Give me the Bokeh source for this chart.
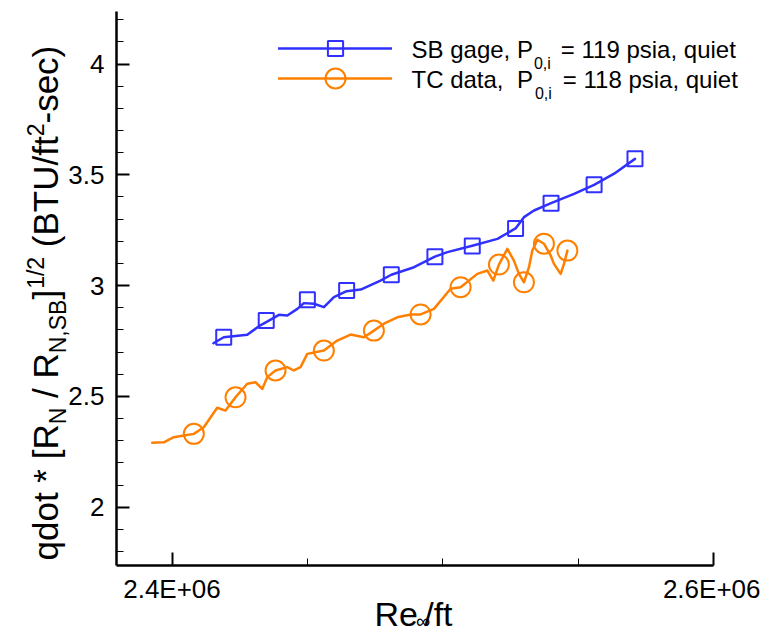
from math import pi
from bokeh.plotting import figure
from bokeh.models import Range1d, FixedTicker, Label, Legend, LegendItem
from bokeh.embed import file_html
from bokeh.resources import INLINE

# ---------------- data ----------------
# SB gage, P0,i = 119 psia (blue line + square markers)
sb_re = [2.4153e6, 2.4191e6, 2.4278e6, 2.4321e6, 2.4348e6, 2.4395e6, 2.4426e6,
         2.4463e6, 2.4487e6, 2.4524e6, 2.4561e6, 2.4598e6, 2.4645e6, 2.4697e6,
         2.4770e6, 2.4810e6, 2.4894e6, 2.4971e6, 2.5017e6, 2.5109e6, 2.5202e6,
         2.5269e6, 2.5300e6, 2.5337e6, 2.5400e6, 2.5485e6, 2.5559e6, 2.5633e6,
         2.5710e6]
sb_q = [2.740, 2.767, 2.778, 2.817, 2.835, 2.868, 2.865,
        2.895, 2.921, 2.918, 2.903, 2.948, 2.975, 2.982,
        3.023, 3.049, 3.083, 3.131, 3.151, 3.180, 3.211,
        3.258, 3.309, 3.339, 3.372, 3.414, 3.455, 3.505,
        3.572]
sb_mk_re = [2.4191e6, 2.4348e6, 2.4500e6, 2.4645e6, 2.4810e6, 2.4971e6,
            2.5109e6, 2.5269e6, 2.5400e6, 2.5559e6, 2.5710e6]
sb_mk_q = [2.767, 2.843, 2.936, 2.978, 3.049, 3.130,
           3.179, 3.258, 3.372, 3.455, 3.572]

# TC data, P0,i = 118 psia (orange line + circle markers)
tc_re = [2.39268e6, 2.39697e6, 2.40067e6, 2.40436e6, 2.40806e6, 2.41175e6,
         2.41670e6, 2.41977e6, 2.42346e6, 2.42779e6, 2.43085e6, 2.43333e6,
         2.43518e6, 2.43824e6, 2.44257e6, 2.44500e6, 2.44748e6, 2.44996e6,
         2.45609e6, 2.46104e6, 2.46596e6, 2.47087e6, 2.47457e6, 2.47826e6,
         2.48321e6, 2.48813e6, 2.49182e6, 2.49674e6, 2.50291e6, 2.50660e6,
         2.51277e6, 2.51647e6, 2.51868e6, 2.52075e6, 2.52386e6, 2.52629e6,
         2.52814e6, 2.52999e6, 2.53184e6, 2.53309e6, 2.53494e6, 2.53738e6,
         2.53986e6, 2.54108e6, 2.54355e6, 2.54477e6, 2.54603e6]
tc_q = [2.291, 2.293, 2.316, 2.324, 2.331, 2.361,
        2.449, 2.436, 2.496, 2.557, 2.564, 2.534,
        2.587, 2.617, 2.632, 2.617, 2.632, 2.692,
        2.707, 2.752, 2.779, 2.767, 2.797, 2.828,
        2.857, 2.870, 2.870, 2.895, 2.986, 2.993,
        3.053, 3.068, 3.023, 3.095, 3.166, 3.113,
        3.053, 3.015, 3.083, 3.158, 3.207, 3.189,
        3.136, 3.098, 3.053, 3.098, 3.158]
tc_mk_re = [2.40806e6, 2.42346e6, 2.43824e6, 2.45609e6, 2.47457e6, 2.49182e6,
            2.50660e6, 2.52075e6, 2.52999e6, 2.53738e6, 2.54603e6]
tc_mk_q = [2.331, 2.496, 2.617, 2.707, 2.797, 2.870,
           2.993, 3.095, 3.015, 3.189, 3.158]

x_ticks = [2.4e6, 2.6e6]
x_tick_labels = ["2.4E+06", "2.6E+06"]
x_minor = [2.45e6, 2.5e6, 2.55e6]
y_ticks = [2.0, 2.5, 3.0, 3.5, 4.0]
y_tick_labels = ["2", "2.5", "3", "3.5", "4"]
y_minor = [1.8, 1.9, 2.1, 2.2, 2.3, 2.4, 2.6, 2.7, 2.8, 2.9,
           3.1, 3.2, 3.3, 3.4, 3.6, 3.7, 3.8, 3.9, 4.1, 4.2]

# ---------------- layout ----------------
CW, CH = 760, 636                 # canvas = plotting frame
X0, X1 = 2379500.0, 2600000.0     # axis extents
Y0, Y1 = 1.737, 4.237
AL, AT, AW, AH = 116, 11, 597, 554  # axes box in pixels
UX = (X1 - X0) / AW
UY = (Y1 - Y0) / AH
XA, XB = X0 - AL * UX, X0 + (CW - AL) * UX
YB, YT = Y0 - (CH - AT - AH) * UY, Y1 + AT * UY

FONT = "Liberation Sans"
BLUE = "#3030FF"
ORANGE = "#FF8000"
NB = "\u00a0"

p = figure(frame_width=CW, frame_height=CH,
           x_range=Range1d(XA, XB), y_range=Range1d(YB, YT),
           output_backend="svg", toolbar_location=None,
           min_border_left=0, min_border_right=0,
           min_border_top=0, min_border_bottom=0)
p.outline_line_color = None
p.background_fill_color = "white"
p.border_fill_color = "white"
p.xgrid.visible = False
p.ygrid.visible = False

for ax in (p.xaxis[0], p.yaxis[0]):
    ax.axis_line_width = 2.5
    ax.axis_line_color = "black"
    ax.major_tick_in = 13
    ax.major_tick_out = 0
    ax.minor_tick_in = 7
    ax.minor_tick_out = 0
    ax.major_tick_line_width = 2
    ax.minor_tick_line_width = 1
    ax.major_label_text_font = FONT
    ax.major_label_text_font_size = "26px"
    ax.major_label_text_color = "black"

p.xaxis.fixed_location = Y0
p.xaxis.bounds = (X0, X1)
p.xaxis.ticker = FixedTicker(ticks=x_ticks, minor_ticks=x_minor)
p.xaxis.major_label_overrides = dict(zip(x_ticks, x_tick_labels))
p.xaxis.major_label_standoff = 8
p.yaxis.fixed_location = X0
p.yaxis.bounds = (Y0, Y1)
p.yaxis.ticker = FixedTicker(ticks=y_ticks, minor_ticks=y_minor)
p.yaxis.major_label_overrides = dict(zip(y_ticks, y_tick_labels))
p.yaxis.major_label_standoff = 12

# ---------------- series ----------------
tc_line = p.line(tc_re, tc_q, line_color=ORANGE, line_width=2.5,
                 line_join="round", line_cap="round")
tc_mk = p.scatter(tc_mk_re, tc_mk_q, marker="circle", size=20, fill_color=None,
                  line_color=ORANGE, line_width=2)
sb_line = p.line(sb_re, sb_q, line_color=BLUE, line_width=2.5,
                 line_join="round", line_cap="round")
sb_mk = p.scatter(sb_mk_re, sb_mk_q, marker="square", size=15, fill_color=None,
                  line_color=BLUE, line_width=2)


# legend samples (text is drawn separately because of subscripts)
def make_legend(renderers, gh, center_y):
    leg = Legend(items=[LegendItem(label=" ", renderers=renderers)],
                 glyph_width=114, glyph_height=gh, label_text_font_size="1px",
                 label_height=4, label_width=2, padding=0, margin=0, spacing=0,
                 border_line_color=None, background_fill_alpha=0,
                 location=(278, CH - (center_y + gh / 2)))
    p.add_layout(leg)


make_legend([sb_line, sb_mk], 38, 48)
make_legend([tc_line, tc_mk], 50, 78)

# ---------------- texts ----------------
W = {' ': 0.278, NB: 0.278, '(': 0.333, ')': 0.333, '*': 0.389, '+': 0.584,
     ',': 0.278, '-': 0.333, '.': 0.278, '/': 0.278, '=': 0.584, '[': 0.278,
     ']': 0.278, 'B': 0.667, 'C': 0.722, 'E': 0.667, 'N': 0.722, 'P': 0.667,
     'R': 0.722, 'S': 0.667, 'T': 0.611, 'U': 0.722, 'a': 0.556, 'c': 0.5,
     'd': 0.556, 'e': 0.556, 'f': 0.278, 'g': 0.556, 'i': 0.222, 'o': 0.556,
     'p': 0.556, 'q': 0.556, 's': 0.5, 't': 0.278, 'u': 0.556, '\u221e': 0.713}
BASE = 0.33  # measured offset of the drawn baseline below the anchor (in em)


def tw(s, size):
    return sum(W.get(c, 0.556) for c in s) * size


def dx(px):
    return XA + px * UX


def dy(py):
    return YT - py * UY


def put(px, py, text, size, angle=0.0):
    p.add_layout(Label(x=dx(px), y=dy(py), text=text, angle=angle,
                       text_font=FONT, text_font_size=f"{size}px",
                       text_color="black", text_align="left",
                       text_baseline="alphabetic"))


def hrun(x, y, segs):
    for text, size, off, gap in segs:
        x += gap
        put(x, y + off - BASE * size, text, size)
        x += tw(text, size)


def vrun(x, y, segs):
    for text, size, off, gap in segs:
        y -= gap
        put(x + off - BASE * size, y, text, size, angle=pi / 2)
        y -= tw(text, size)


# legend texts
hrun(411, 57, [("SB gage, P", 24, 0, 0), ("0,i", 16, 11, 1),
               ("= 119 psia, quiet", 24, 0, 10)])
hrun(411, 87, [("TC data," + NB + " P", 24, 0, 0), ("0,i", 16, 11, 2),
               ("= 118 psia, quiet", 24, 0, 11)])

# x-axis title
hrun(374, 625, [("Re", 34, 0, 0), ("\u221e", 20, 2, -2), ("/ft", 34, 0, -6)])

# y-axis title (rotated, reading upwards)
vrun(57, 560, [("qdot * [R", 35, 0, 0), ("N", 23, 8, 0), (NB + "/ R", 35, 0, 0),
               ("N,SB", 23, 8, 0), ("]", 35, 0, 0), ("1/2", 23, -14, 1),
               (NB + "(BTU/ft", 35, 0, 0), ("2", 23, -14, 0), ("-sec)", 35, 0, 0)])

open("out.html", "w").write(file_html(p, INLINE))
